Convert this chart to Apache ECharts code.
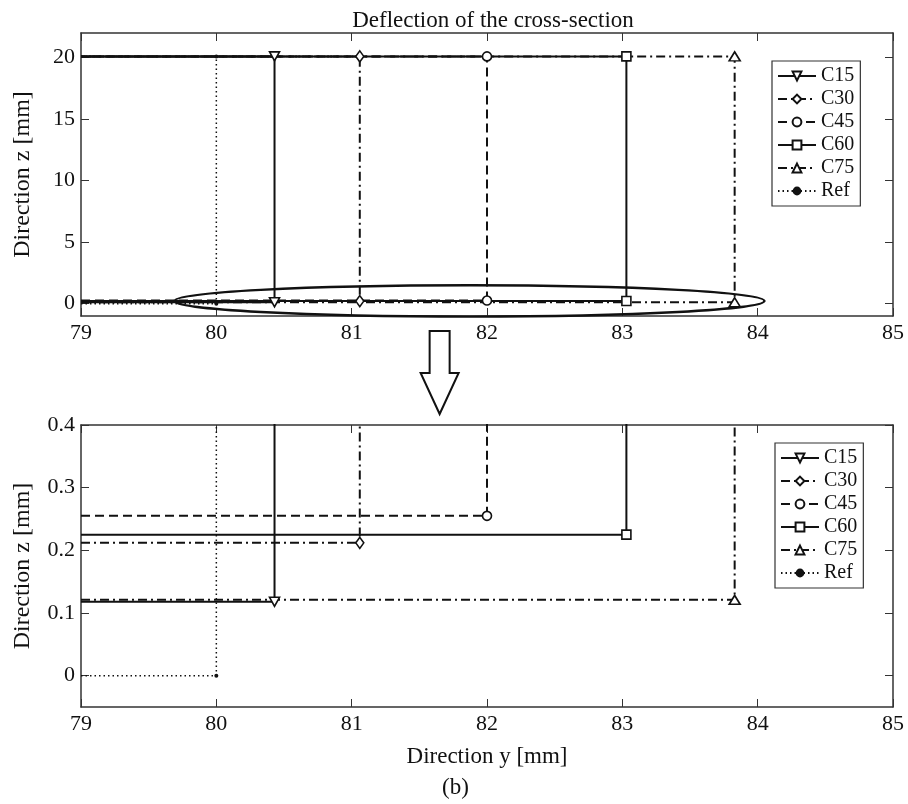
<!DOCTYPE html>
<html>
<head>
<meta charset="utf-8">
<script src="https://cdn.jsdelivr.net/npm/echarts@6/dist/echarts.min.js"></script>
<style>
html,body{margin:0;padding:0;background:#fff;}
#chart{width:908px;height:804px;}
</style>
</head>
<body>
<div id="chart"></div>
<script>
// ---- data ----
const seriesNames = ['C15', 'C30', 'C45', 'C60', 'C75', 'Ref'];
const yStart = 79;                                        // left end of every path [mm]
const yEnd   = [80.43, 81.06, 82.00, 83.03, 83.83, 80.00]; // direction y of the section edge [mm]
const zLow   = [0.118, 0.212, 0.255, 0.225, 0.121, 0.0];   // lower deflection level [mm]
const zHigh  = [20.10, 20.10, 20.10, 20.10, 20.10, 20.10]; // upper level [mm]
const xTicks = [79, 80, 81, 82, 83, 84, 85];
const zTicksTop = [0, 5, 10, 15, 20];
const zTicksBottom = [0, 0.1, 0.2, 0.3, 0.4];
const titleText = 'Deflection of the cross-section';
const xName = 'Direction y [mm]';
const zName = 'Direction z [mm]';
const caption = '(b)';

// ---- styles ----
const FONT = '"Liberation Serif", "Times New Roman", serif';
const INK = '#111';
const downTri = 'path://M0,0 L10,0 L5,9 Z';
const styles = {
  C15: { dash: 'solid', symbol: downTri, size: [10, 9], width: 2 },
  C30: { dash: [9, 4, 2, 4], symbol: 'diamond', size: [8, 11], width: 2 },
  C45: { dash: [9, 5], symbol: 'circle', size: 9, width: 2 },
  C60: { dash: 'solid', symbol: 'rect', size: 9, width: 2 },
  C75: { dash: [9, 4, 2, 4], symbol: 'triangle', size: [11, 9], width: 2 },
  Ref: { dash: [1.5, 3], symbol: 'circle', size: 4, width: 1.5 }
};

function pathData(i) {
  return [
    { value: [yStart, zLow[i]], symbol: 'none' },
    { value: [yEnd[i], zLow[i]] },
    { value: [yEnd[i], zHigh[i]] },
    { value: [yStart, zHigh[i]], symbol: 'none' }
  ];
}

function makeSeries(gridIdx) {
  return seriesNames.map((n, i) => {
    const s = styles[n];
    return {
      name: n,
      type: 'line',
      xAxisIndex: gridIdx * 2,
      yAxisIndex: gridIdx * 2,
      data: pathData(i),
      symbol: s.symbol,
      symbolSize: s.size,
      showAllSymbol: true,
      clip: true,
      animation: false,
      z: n === 'Ref' ? 1 : 3,
      lineStyle: { color: INK, width: s.width, type: s.dash },
      itemStyle: n === 'Ref'
        ? { color: INK, borderColor: INK, borderWidth: 0 }
        : { color: '#fff', borderColor: INK, borderWidth: 1.6 },
      emphasis: { disabled: true }
    };
  });
}

const axisLine = { show: true, onZero: false, lineStyle: { color: '#333', width: 1.5 } };
const tick = { show: true, inside: true, length: 8, lineStyle: { color: '#333', width: 1 } };
const labelStyle = { color: INK, fontFamily: FONT, fontSize: 22 };
const nameStyle = { color: INK, fontFamily: FONT, fontSize: 23 };

function xAxes(gridIdx, withName) {
  return [
    {
      type: 'value', gridIndex: gridIdx, position: 'bottom',
      min: xTicks[0], max: xTicks[xTicks.length - 1], interval: 1,
      axisLine, axisTick: tick,
      axisLabel: Object.assign({ margin: 6 }, labelStyle),
      splitLine: { show: false },
      name: withName ? xName : '', nameLocation: 'middle', nameGap: 38,
      nameTextStyle: nameStyle
    },
    {
      type: 'value', gridIndex: gridIdx, position: 'top',
      min: xTicks[0], max: xTicks[xTicks.length - 1], interval: 1,
      axisLine, axisTick: tick, axisLabel: { show: false },
      splitLine: { show: false }
    }
  ];
}

function yAxes(gridIdx, min, max, ticks) {
  return [
    {
      type: 'value', gridIndex: gridIdx, position: 'left',
      min, max,
      axisLine,
      axisTick: Object.assign({ customValues: ticks }, tick),
      axisLabel: Object.assign({ margin: 6, customValues: ticks }, labelStyle),
      splitLine: { show: false },
      name: zName, nameLocation: 'middle', nameGap: 46,
      nameTextStyle: { color: INK, fontFamily: FONT, fontSize: 24 }
    },
    {
      type: 'value', gridIndex: gridIdx, position: 'right',
      min, max,
      axisLine,
      axisTick: Object.assign({ customValues: ticks }, tick),
      axisLabel: { show: false },
      splitLine: { show: false }
    }
  ];
}

function legend(left, top) {
  return {
    data: seriesNames,
    orient: 'vertical',
    left, top,
    itemWidth: 38, itemHeight: 11, itemGap: 3,
    padding: [5, 6, 5, 5],
    borderColor: '#333', borderWidth: 1.2,
    backgroundColor: '#fff',
    selectedMode: false,
    textStyle: { color: INK, fontFamily: FONT, fontSize: 20, lineHeight: 20 }
  };
}

const chart = echarts.init(document.getElementById('chart'), null, { renderer: 'canvas' });

const x0 = xAxes(0, false), x1 = xAxes(1, true);
const y0 = yAxes(0, -1, 22, zTicksTop), y1 = yAxes(1, -0.05, 0.4, zTicksBottom);

chart.setOption({
  backgroundColor: '#fff',
  animation: false,
  title: {
    text: titleText, left: 488, top: 4, textAlign: 'center',
    textStyle: { color: INK, fontFamily: FONT, fontSize: 23, fontWeight: 'normal' }
  },
  grid: [
    { left: 81, top: 33, width: 812, height: 283 },
    { left: 81, top: 425, width: 812, height: 282 }
  ],
  xAxis: [x0[0], x0[1], x1[0], x1[1]],
  yAxis: [y0[0], y0[1], y1[0], y1[1]],
  legend: [legend(772, 61), legend(775, 443)],
  series: makeSeries(0).concat(makeSeries(1))
});

// annotations: ellipse around the bottom band of the upper plot, arrow, caption
const pL = chart.convertToPixel({ xAxisIndex: 0, yAxisIndex: 0 }, [79.69, -1.05]);
const pR = chart.convertToPixel({ xAxisIndex: 0, yAxisIndex: 0 }, [84.05, 1.5]);
const cx = (pL[0] + pR[0]) / 2, cy = (pL[1] + pR[1]) / 2;
const rx = (pR[0] - pL[0]) / 2, ry = Math.abs(pL[1] - pR[1]) / 2;
const ax = chart.convertToPixel({ xAxisIndex: 0, yAxisIndex: 0 }, [81.65, 0])[0];

chart.setOption({
  graphic: [
    {
      type: 'ellipse', z: 100,
      shape: { cx, cy, rx, ry },
      style: { fill: 'none', stroke: INK, lineWidth: 2.4 }
    },
    {
      type: 'polygon', z: 100,
      shape: { points: [
        [ax - 10, 331], [ax + 10, 331], [ax + 10, 373], [ax + 19, 373],
        [ax, 414], [ax - 19, 373], [ax - 10, 373]
      ] },
      style: { fill: '#fff', stroke: INK, lineWidth: 2 }
    },
    {
      type: 'text', z: 100, left: 442, top: 776,
      style: { text: caption, fill: INK, font: '23px ' + FONT }
    }
  ]
});
</script>
</body>
</html>
